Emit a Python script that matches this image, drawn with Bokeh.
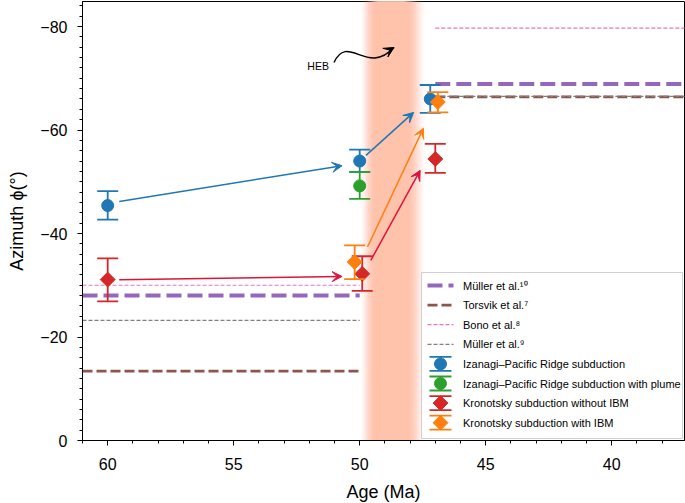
import numpy as np
from bokeh.plotting import figure
from bokeh.models import (Range1d, SingleIntervalTicker, CustomJSTickFormatter,
                          ColumnDataSource, Arrow, VeeHead)
from bokeh.core.properties import value
from bokeh.embed import file_html
from bokeh.resources import INLINE

# ---------------- data ----------------
# Izanagi-Pacific Ridge subduction
ipr_age = [60.0, 50.0, 47.2]
ipr_az = [-45.4, -54.0, -66.0]
ipr_lo = [-42.7, -51.9, -63.3]
ipr_hi = [-48.2, -56.2, -68.7]

# Izanagi-Pacific Ridge subduction with plume
plume_age = [50.0]
plume_az = [-49.2]
plume_lo = [-46.7]
plume_hi = [-51.9]

# Kronotsky subduction without IBM
kr_age = [60.0, 49.9, 47.0]
kr_az = [-31.1, -32.2, -54.4]
kr_lo = [-26.9, -28.9, -51.7]
kr_hi = [-35.2, -35.6, -57.3]

# Kronotsky subduction with IBM
ibm_age = [50.2, 46.9]
ibm_az = [-34.5, -65.4]
ibm_lo = [-31.2, -63.4]
ibm_hi = [-37.7, -67.3]

# published plate-motion azimuths (before / after the bend)
ref_start = [61.0, 47.0]
ref_end = [50.0, 37.0]
muller10_az = [-28.0, -68.9]
torsvik_az = [-13.4, -66.4]
bono_az = [-30.0, -79.7]
muller9_az = [-23.2, -66.5]

# arrows between model stages
ipr_arrow_x0 = [59.54, 49.75]
ipr_arrow_y0 = [-46.2, -55.1]
ipr_arrow_x1 = [50.7, 47.86]
ipr_arrow_y1 = [-53.1, -63.4]
kr_arrow_x0 = [59.54, 49.56]
kr_arrow_y0 = [-31.05, -34.8]
kr_arrow_x1 = [50.7, 47.6]
kr_arrow_y1 = [-31.7, -52.2]
ibm_arrow_x0 = [49.69]
ibm_arrow_y0 = [-37.4]
ibm_arrow_x1 = [47.47]
ibm_arrow_y1 = [-60.35]

# HEB (Hawaiian-Emperor bend) band and label
heb_start = 50.05
heb_solid_start = 49.3
heb_solid_end = 48.2
heb_end = 47.3
heb_label_x = 51.22
heb_label_y = -72.3
heb_curve = dict(x0=51.02, y0=-73.04, cx0=50.47, cy0=-78.84,
                 cx1=49.71, cy1=-70.34, x1=48.64, y1=-75.94)
heb_head_start = (49.04, -74.78)

x_ticks_major = 5
y_ticks_major = 20

# ---------------- colours ----------------
BLUE = "#1f77b4"
GREEN = "#2ca02c"
RED = "#d62728"
ORANGE = "#ff7f0e"
CRIMSON = "#dc143c"
PURPLE = "#9467bd"
BROWN = "#8c564b"
PINK = "#e377c2"
GRAY = "#7f7f7f"
FONT = "Liberation Sans"

FW, FH = 602, 439
p = figure(frame_width=FW, frame_height=FH,
           x_range=Range1d(61, 61 - FW / 25.2),
           y_range=Range1d(0, -FH / 5.175),
           output_backend="svg", toolbar_location=None,
           min_border_left=82, min_border_right=1,
           min_border_top=1, min_border_bottom=60,
           background_fill_color="white", border_fill_color="white")
p.extra_x_ranges = {"px": Range1d(0, FW)}
p.extra_y_ranges = {"px": Range1d(0, FH)}

p.xgrid.visible = False
p.ygrid.visible = False
p.outline_line_color = "black"
p.outline_line_width = 1
p.outline_line_alpha = 1

p.xaxis.ticker = SingleIntervalTicker(interval=x_ticks_major, num_minor_ticks=5)
p.yaxis.ticker = SingleIntervalTicker(interval=y_ticks_major, num_minor_ticks=10)
p.xaxis.formatter = CustomJSTickFormatter(code="return Math.abs(tick).toFixed(0);")
p.yaxis.formatter = CustomJSTickFormatter(
    code="return (tick < 0 ? '\u2212' : '') + Math.abs(tick).toFixed(0);")
for ax in (p.xaxis, p.yaxis):
    ax.axis_line_color = "black"
    ax.major_tick_line_color = "black"
    ax.minor_tick_line_color = "black"
    ax.major_tick_out = 5
    ax.major_tick_in = 0
    ax.minor_tick_out = 3
    ax.minor_tick_in = 0
    ax.major_label_text_font = FONT
    ax.major_label_text_font_size = "16px"
    ax.major_label_text_color = "black"
    ax.axis_label_text_font = FONT
    ax.axis_label_text_font_size = "18px"
    ax.axis_label_text_font_style = "normal"
    ax.axis_label_text_color = "black"
p.xaxis.major_label_standoff = 12
p.xaxis.axis_label_standoff = 9
p.yaxis.major_label_standoff = 10
p.yaxis.axis_label_standoff = 10
p.xaxis.axis_label = "Age (Ma)"
p.yaxis.axis_label = "Azimuth \u03d5(°)"

# ---------------- HEB band (nested translucent quads => smooth fade) ----------------
n_layers = 40
k = np.arange(1, n_layers + 1)
opac = k / n_layers                                  # cumulative opacity per layer
s = 0.5 - np.sin(np.arcsin(1 - 2 * opac) / 3)         # inverse smoothstep
lefts = heb_start + (heb_solid_start - heb_start) * s
rights = heb_end + (heb_solid_end - heb_end) * s
layer_alpha = 1.0 / (n_layers - k + 1)
p.quad(left=lefts, right=rights, bottom=0, top=-100,
       fill_color="#ffc3ab", fill_alpha=layer_alpha, line_color=None)

# ---------------- reference lines ----------------
def ref_lines(az, color, width, dash):
    p.segment(x0=ref_start, x1=ref_end, y0=az, y1=az,
              line_color=color, line_width=width, line_dash=dash)

ref_lines(muller10_az, PURPLE, 4, "15 6")
ref_lines(torsvik_az, BROWN, 2.7, "10 4")
ref_lines(bono_az, PINK, 1.2, "4 2")
ref_lines(muller9_az, GRAY, 1.2, "4 2")

# ---------------- arrows ----------------
def arrows(x0, y0, x1, y1, color):
    src = ColumnDataSource(dict(x0=x0, y0=y0, x1=x1, y1=y1))
    p.add_layout(Arrow(source=src, x_start="x0", y_start="y0", x_end="x1", y_end="y1",
                       line_color=color, line_width=1.5,
                       end=VeeHead(size=10, fill_color=color, line_color=color,
                                   line_width=1)))

arrows(ipr_arrow_x0, ipr_arrow_y0, ipr_arrow_x1, ipr_arrow_y1, BLUE)
arrows(kr_arrow_x0, kr_arrow_y0, kr_arrow_x1, kr_arrow_y1, CRIMSON)
arrows(ibm_arrow_x0, ibm_arrow_y0, ibm_arrow_x1, ibm_arrow_y1, ORANGE)

# ---------------- error bars + markers ----------------
def series(age, az, lo, hi, color, marker):
    p.segment(x0=age, x1=age, y0=lo, y1=hi, line_color=color, line_width=1.8)
    p.scatter(x=age + age, y=lo + hi, marker="dash", size=21,
              line_color=color, line_width=1.8)
    if marker == "circle":
        p.scatter(x=age, y=az, marker="circle", size=12,
                  fill_color=color, line_color=color)
    else:
        p.scatter(x=age, y=az, marker="square", angle=np.pi / 4, size=10.5,
                  fill_color=color, line_color=color)

series(ipr_age, ipr_az, ipr_lo, ipr_hi, BLUE, "circle")
series(plume_age, plume_az, plume_lo, plume_hi, GREEN, "circle")
series(kr_age, kr_az, kr_lo, kr_hi, RED, "diamond")
series(ibm_age, ibm_az, ibm_lo, ibm_hi, ORANGE, "diamond")

# ---------------- HEB annotation ----------------
p.text(x=[heb_label_x], y=[heb_label_y], text=["HEB"], text_align="right",
       text_baseline="middle", text_font=value(FONT), text_font_size="10.5px",
       text_color="black")
p.bezier(x0=[heb_curve["x0"]], y0=[heb_curve["y0"]],
         x1=[heb_curve["x1"]], y1=[heb_curve["y1"]],
         cx0=[heb_curve["cx0"]], cy0=[heb_curve["cy0"]],
         cx1=[heb_curve["cx1"]], cy1=[heb_curve["cy1"]],
         line_color="black", line_width=1.5)
p.add_layout(Arrow(x_start=heb_head_start[0], y_start=heb_head_start[1],
                   x_end=heb_curve["x1"], y_end=heb_curve["y1"],
                   line_alpha=0, line_width=1,
                   end=VeeHead(size=10, fill_color="black", line_color="black")))

# ---------------- legend (drawn in frame pixel units) ----------------
labels = ["Müller et al.\u00b9\u2070", "Torsvik et al.\u2077", "Bono et al.\u2078",
          "Müller et al.\u2079", "Izanagi\u2013Pacific Ridge subduction",
          "Izanagi\u2013Pacific Ridge subduction with plume",
          "Kronotsky subduction without IBM", "Kronotsky subduction with IBM"]
LX0, LX1, LB, LT = 339, 600, 2, 168
GX0, GX1 = 345, 371
GXC = 0.5 * (GX0 + GX1)
rows = [155 - 19.6 * i for i in range(len(labels))]
kw = dict(x_range_name="px", y_range_name="px")

p.quad(left=[LX0], right=[LX1], bottom=[LB], top=[LT], fill_color="white",
       fill_alpha=0.85, line_color="#d0d0d0", line_width=1, **kw)

for i, (color, width, dash) in enumerate([(PURPLE, 4, "15 6"), (BROWN, 2.7, "10 4"),
                                           (PINK, 1.2, "4 2"), (GRAY, 1.2, "4 2")]):
    p.segment(x0=[GX0], x1=[GX1], y0=[rows[i]], y1=[rows[i]],
              line_color=color, line_width=width, line_dash=dash, **kw)

for j, (color, marker) in enumerate([(BLUE, "circle"), (GREEN, "circle"),
                                      (RED, "diamond"), (ORANGE, "diamond")]):
    yc = rows[4 + j]
    p.segment(x0=[GXC], x1=[GXC], y0=[yc - 7], y1=[yc + 7],
              line_color=color, line_width=1.8, **kw)
    p.scatter(x=[GXC, GXC], y=[yc - 7, yc + 7], marker="dash", size=22,
              line_color=color, line_width=1.8, **kw)
    if marker == "circle":
        p.scatter(x=[GXC], y=[yc], marker="circle", size=12,
                  fill_color=color, line_color=color, **kw)
    else:
        p.scatter(x=[GXC], y=[yc], marker="square", angle=np.pi / 4, size=10.5,
                  fill_color=color, line_color=color, **kw)

p.text(x=[GX1 + 9.5] * len(labels), y=rows, text=labels, text_align="left",
       text_baseline="middle", text_font=value(FONT), text_font_size="11px",
       text_color="black", **kw)

open("out.html", "w").write(file_html(p, INLINE))
